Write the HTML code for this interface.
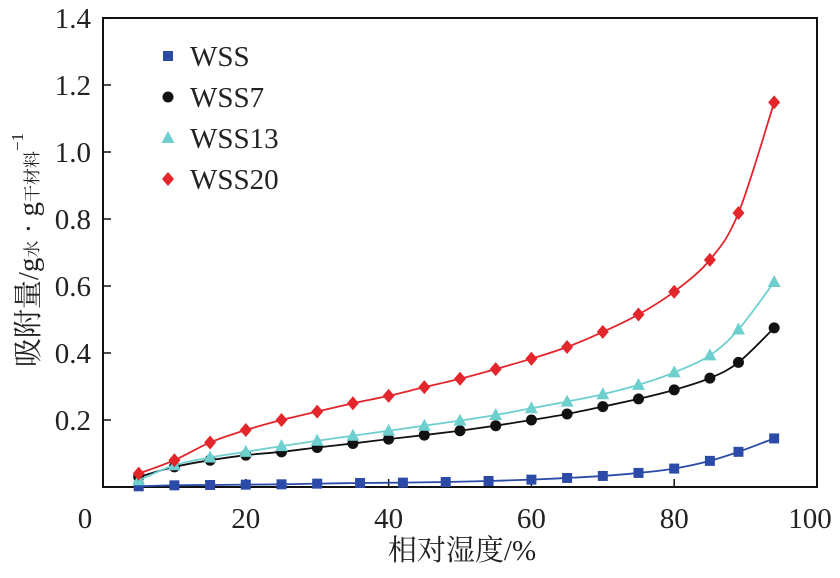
<!DOCTYPE html>
<html><head><meta charset="utf-8"><style>
body{margin:0;background:#fff}
text{font-family:"Liberation Serif","Noto Serif CJK SC",serif;fill:#222}
</style></head><body>
<svg id="chart" width="840" height="573" xmlns="http://www.w3.org/2000/svg"></svg>
<script>
const xs=[5,10,15,20,25,30,35,40,45,50,55,60,65,70,75,80,85,89,94];
const xsWSS=[5,10,15,20,25,30,36,42,48,54,60,65,70,75,80,85,89,94];
const wss=[0.002,0.005,0.006,0.007,0.008,0.01,0.012,0.013,0.015,0.018,0.022,0.027,0.033,0.042,0.055,0.078,0.105,0.145];
const wss7=[0.03,0.06,0.08,0.095,0.105,0.118,0.13,0.143,0.155,0.168,0.183,0.2,0.218,0.24,0.263,0.29,0.325,0.372,0.475];
const wss13=[0.02,0.065,0.088,0.105,0.122,0.138,0.153,0.168,0.183,0.198,0.215,0.235,0.255,0.277,0.305,0.342,0.393,0.47,0.612];
const wss20=[0.04,0.08,0.133,0.17,0.2,0.225,0.25,0.272,0.298,0.323,0.352,0.383,0.418,0.463,0.515,0.583,0.678,0.818,1.148];
const xTicks=[0,20,40,60,80,100];
const yTicks=[0.2,0.4,0.6,0.8,1.0,1.2,1.4];
const yTickLabels=["0.2","0.4","0.6","0.8","1.0","1.2","1.4"];
const NS="http://www.w3.org/2000/svg",svg=document.getElementById('chart');
const X=v=>103+v*7.14, Y=v=>487-v*335;
function mk(t,a,p){const e=document.createElementNS(NS,t);for(const k in a)e.setAttribute(k,a[k]);(p||svg).appendChild(e);return e;}
const frame=mk('rect',{x:103,y:18,width:714,height:469,fill:'none',stroke:'#111','stroke-width':2});


xTicks.forEach((t,i)=>{
  if(t>0&&t<100){const l=mk('line',{x1:X(t),x2:X(t),y1:487,y2:479,stroke:'#111','stroke-width':1.5});
  
  }
  const tx=mk('text',{x:t===0?85:(t===100?810:X(t)),y:528,'font-size':29,'text-anchor':'middle'});tx.textContent=t;
  
  
});
yTicks.forEach((t,i)=>{
  const l=mk('line',{x1:103,x2:111,y1:Y(t),y2:Y(t),stroke:'#111','stroke-width':1.5});
  
  
  const tx=mk('text',{x:91,y:Y(t)+10,'font-size':29,'text-anchor':'end'});tx.textContent=yTickLabels[i];
  
  
});
const xt=mk('text',{x:462,y:560,'font-size':29,'text-anchor':'middle'});xt.textContent='相对湿度/%';


const yt=mk('text',{transform:'translate(38,250) rotate(-90)','font-size':29,'text-anchor':'middle'});
yt.innerHTML='吸附量/g<tspan font-size="17">水</tspan> · g<tspan font-size="17">干材料</tspan><tspan font-size="17" dy="-15">−1</tspan>';


function smooth(pts){let d=`M${pts[0][0]},${pts[0][1]}`;for(let i=0;i<pts.length-1;i++){const p0=pts[Math.max(0,i-1)],p1=pts[i],p2=pts[i+1],p3=pts[Math.min(pts.length-1,i+2)];
d+=` C${p1[0]+(p2[0]-p0[0])/6},${p1[1]+(p2[1]-p0[1])/6} ${p2[0]-(p3[0]-p1[0])/6},${p2[1]-(p3[1]-p1[1])/6} ${p2[0]},${p2[1]}`;}return d;}
function marker(shape,x,y,c,name){let e;
 if(shape==='sq')e=mk('rect',{x:x-5,y:y-5,width:10,height:10,fill:c});
 else if(shape==='ci')e=mk('circle',{cx:x,cy:y,r:5.5,fill:c});
 else if(shape==='tr')e=mk('polygon',{points:`${x},${y-7} ${x+6.5},${y+5} ${x-6.5},${y+5}`,fill:c});
 else e=mk('polygon',{points:`${x},${y-7} ${x+6},${y} ${x},${y+7} ${x-6},${y}`,fill:c});
 
 }
const series=[[xsWSS,wss,'#2c4aa8','sq','wss'],[xs,wss7,'#111','ci','wss7'],[xs,wss13,'#6ecfcf','tr','wss13'],[xs,wss20,'#e2262b','di','wss20']];
series.forEach(([sx,sy,c,sh,n])=>{
  const pts=sx.map((v,i)=>[X(v),Y(sy[i])]);
  const p=mk('path',{d:smooth(pts),fill:'none',stroke:c,'stroke-width':1.8});
  
  
  pts.forEach(q=>marker(sh,q[0],q[1],c,n+'-point'));
});
const legNames=['WSS','WSS7','WSS13','WSS20'];
series.forEach((s,i)=>{const y=56+i*41;marker(s[3],168,y,s[2],'legend-marker');
 const t=mk('text',{x:190,y:y+10,'font-size':29});t.textContent=legNames[i];
 
 });
</script>
</body></html>
